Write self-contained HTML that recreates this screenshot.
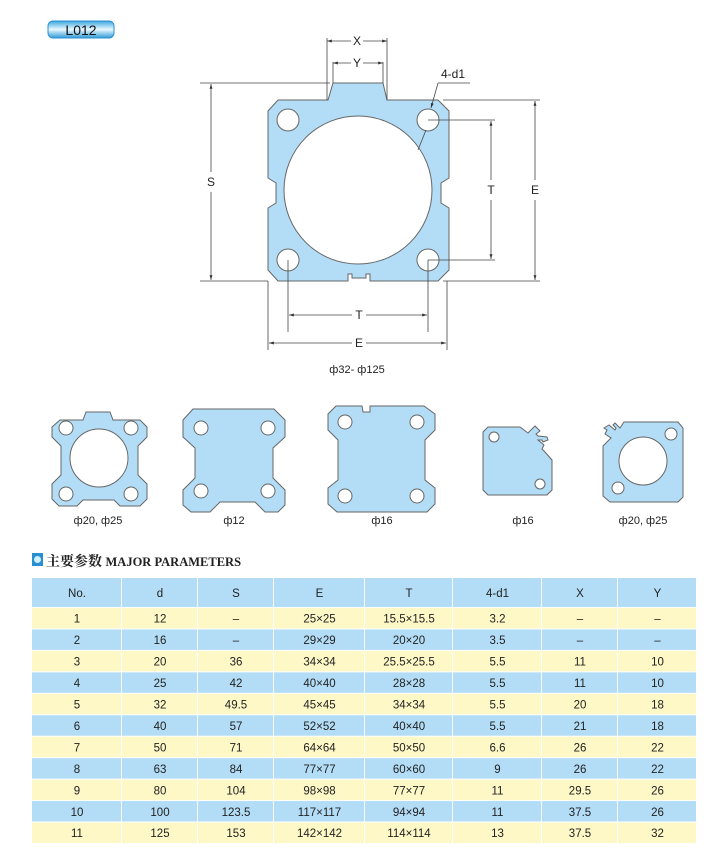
<!DOCTYPE html>
<html><head><meta charset="utf-8"><style>
body{margin:0;background:#fff;width:720px;height:855px;overflow:hidden;font-family:"Liberation Sans",Arial,sans-serif}
svg{position:absolute;left:0;top:0}
</style></head><body>
<svg width="720" height="855" viewBox="0 0 720 855" font-family="Liberation Sans, sans-serif">
<defs>
<linearGradient id="lg" x1="0" y1="0" x2="0" y2="1"><stop offset="0" stop-color="#3aa7e0"/><stop offset="0.5" stop-color="#e8f7ff"/><stop offset="1" stop-color="#2f9ad8"/></linearGradient>
<marker id="a" viewBox="0 0 10 10" refX="10" refY="5" markerWidth="6" markerHeight="6" orient="auto-start-reverse"><path d="M0,2 L10,5 L0,8z" fill="#333"/></marker>
</defs>
<rect x="48" y="21" width="66" height="17" rx="5" fill="url(#lg)" stroke="#2a8fd0"/>
<text x="81" y="35" font-size="14" text-anchor="middle" fill="#111">L012</text>

<!-- main shape -->
<g fill="#b3ddf6" stroke="#666" stroke-width="1">
<path fill-rule="evenodd" d="M278,100 L328,100 L333,83 L383,83 L387,100 L438,100 L449,111 L449,178 L441,183 L441,203 L449,208 L449,270 L438,281 L370,281 L370,274 L366,274 L366,278 L352,278 L352,274 L348,274 L348,281 L278,281 L268,270 L268,208 L276,203 L276,183 L268,178 L268,111 Z
M432,190 A74,74 0 1 0 284,190 A74,74 0 1 0 432,190 Z
M299,120 A11,11 0 1 0 277,120 A11,11 0 1 0 299,120 Z
M439,120 A11,11 0 1 0 417,120 A11,11 0 1 0 439,120 Z
M299,260 A11,11 0 1 0 277,260 A11,11 0 1 0 299,260 Z
M439,260 A11,11 0 1 0 417,260 A11,11 0 1 0 439,260 Z"/>
</g>
<g stroke="#444" stroke-width="0.8" fill="none">
<line x1="327" y1="38" x2="327" y2="100"/><line x1="387" y1="38" x2="387" y2="100"/>
<line x1="327" y1="41" x2="351" y2="41" marker-start="url(#a)"/><line x1="363" y1="41" x2="387" y2="41" marker-end="url(#a)"/>
<line x1="333" y1="62" x2="333" y2="83"/><line x1="383" y1="62" x2="383" y2="83"/>
<line x1="333" y1="63" x2="351" y2="63" marker-start="url(#a)"/><line x1="363" y1="63" x2="383" y2="63" marker-end="url(#a)"/>
<line x1="200" y1="83" x2="330" y2="83"/><line x1="200" y1="281" x2="268" y2="281"/>
<line x1="211" y1="84" x2="211" y2="172" marker-start="url(#a)"/><line x1="211" y1="192" x2="211" y2="280" marker-end="url(#a)"/>
<line x1="443" y1="100" x2="540" y2="100"/><line x1="443" y1="281" x2="540" y2="281"/>
<line x1="535" y1="101" x2="535" y2="180" marker-start="url(#a)"/><line x1="535" y1="200" x2="535" y2="280" marker-end="url(#a)"/>
<line x1="428" y1="120" x2="495" y2="120"/><line x1="428" y1="260" x2="495" y2="260"/>
<line x1="491" y1="121" x2="491" y2="180" marker-start="url(#a)"/><line x1="491" y1="200" x2="491" y2="259" marker-end="url(#a)"/>
<line x1="288" y1="260" x2="288" y2="332"/><line x1="428" y1="260" x2="428" y2="332"/>
<line x1="289" y1="315" x2="352" y2="315" marker-start="url(#a)"/><line x1="366" y1="315" x2="427" y2="315" marker-end="url(#a)"/>
<line x1="268" y1="281" x2="268" y2="350"/><line x1="447" y1="281" x2="447" y2="350"/>
<line x1="269" y1="343" x2="352" y2="343" marker-start="url(#a)"/><line x1="366" y1="343" x2="446" y2="343" marker-end="url(#a)"/>
<line x1="438" y1="83" x2="470" y2="83"/><line x1="438" y1="83" x2="431" y2="108" marker-end="url(#a)"/>
<line x1="426" y1="130" x2="418" y2="150"/>
</g>
<g font-size="12" fill="#222" text-anchor="middle">
<text x="357" y="45">X</text><text x="357" y="67">Y</text>
<text x="453" y="78">4-d1</text>
<text x="211" y="186">S</text><text x="535" y="194">E</text><text x="491" y="194">T</text>
<text x="359" y="319">T</text><text x="359" y="347">E</text>
<text x="357" y="373" font-size="11">ф32- ф125</text>
</g>

<!-- small shapes -->
<g fill="#b3ddf6" stroke="#666" stroke-width="1" fill-rule="evenodd">
<path d="M60,420 L83,420 L86,412 L110,412 L113,420 L140,420 L147,427 L147,437 L138,446 L138,475 L147,484 L147,499 L140,506 L120,506 L114,500 L83,500 L77,506 L59,506 L52,499 L52,484 L61,475 L61,446 L52,437 L52,427 Z
M128,458 A29,29 0 1 0 70,458 A29,29 0 1 0 128,458 Z
M73,428 A7,7 0 1 0 59,428 A7,7 0 1 0 73,428 Z M138,428 A7,7 0 1 0 124,428 A7,7 0 1 0 138,428 Z
M73,494 A7,7 0 1 0 59,494 A7,7 0 1 0 73,494 Z M138,494 A7,7 0 1 0 124,494 A7,7 0 1 0 138,494 Z"/>
<path d="M193,409 L274,409 L285,420 L285,437 L273,448 L273,478 L285,490 L285,505 L278,512 L265,512 L255,502 L220,502 L210,512 L191,512 L183,505 L183,490 L195,478 L195,448 L183,437 L183,420 Z
M208,428 A7,7 0 1 0 194,428 A7,7 0 1 0 208,428 Z M275,428 A7,7 0 1 0 261,428 A7,7 0 1 0 275,428 Z
M208,491 A7,7 0 1 0 194,491 A7,7 0 1 0 208,491 Z M275,491 A7,7 0 1 0 261,491 A7,7 0 1 0 275,491 Z"/>
<path d="M336,406 L362,406 L363,412 L370,412 L370,406 L424,406 L435,414 L435,430 L425,440 L425,480 L435,488 L435,504 L427,512 L337,512 L328,504 L328,488 L338,480 L338,440 L328,430 L328,414 Z
M352,422 A7,7 0 1 0 338,422 A7,7 0 1 0 352,422 Z M424,422 A7,7 0 1 0 410,422 A7,7 0 1 0 424,422 Z
M352,496 A7,7 0 1 0 338,496 A7,7 0 1 0 352,496 Z M424,496 A7,7 0 1 0 410,496 A7,7 0 1 0 424,496 Z"/>
<path d="M488,427 L520,427 L528,433 L535,426 L540,431 L536,434 L538,436 L547,437 L548,440 L543,442 L542,440 L538,440 L544,445 L542,449 L545,452 L552,460 L552,490 L547,495 L488,495 L483,490 L483,432 Z
M499,437 A5,5 0 1 0 489,437 A5,5 0 1 0 499,437 Z M545,484 A5,5 0 1 0 535,484 A5,5 0 1 0 545,484 Z"/>
<path d="M624,422 L678,422 L683,428 L683,497 L678,502 L610,502 L603,496 L603,446 L611,438 L605,434 L607,430 L604,428 L609,425 L615,430 L616,428 L613,425 L615,423 L620,428 Z
M667,461 A24,24 0 1 0 619,461 A24,24 0 1 0 667,461 Z
M677,434 A6,6 0 1 0 665,434 A6,6 0 1 0 677,434 Z M624,488 A6,6 0 1 0 612,488 A6,6 0 1 0 624,488 Z"/>
</g>
<g font-size="11" fill="#222" text-anchor="middle">
<text x="98" y="524">ф20, ф25</text><text x="234" y="524">ф12</text><text x="382" y="524">ф16</text>
<text x="523" y="524">ф16</text><text x="643" y="524">ф20, ф25</text>
</g>

<!-- title -->
<rect x="32" y="553" width="11" height="13" fill="#2a8fd0"/><circle cx="37.5" cy="559.5" r="3.5" fill="#cfeeff"/>
<text x="46" y="566" font-size="14" font-weight="bold" fill="#222" font-family="Liberation Serif, Noto Serif CJK SC, serif">主要参数 <tspan font-size="12.5">MAJOR PARAMETERS</tspan></text>

<!-- table -->
<g id="tbl"></g>
</svg>
<script>
var cols=[32,122,198,274,365,453,542,618,697];
var rows=[["No.","d","S","E","T","4-d1","X","Y"],
["1","12","–","25×25","15.5×15.5","3.2","–","–"],
["2","16","–","29×29","20×20","3.5","–","–"],
["3","20","36","34×34","25.5×25.5","5.5","11","10"],
["4","25","42","40×40","28×28","5.5","11","10"],
["5","32","49.5","45×45","34×34","5.5","20","18"],
["6","40","57","52×52","40×40","5.5","21","18"],
["7","50","71","64×64","50×50","6.6","26","22"],
["8","63","84","77×77","60×60","9","26","22"],
["9","80","104","98×98","77×77","11","29.5","26"],
["10","100","123.5","117×117","94×94","11","37.5","26"],
["11","125","153","142×142","114×114","13","37.5","32"]];
var s="",y=578;
for(var r=0;r<rows.length;r++){var h=r==0?30:21.45;var c=(r==0||r%2==0)?"#b3ddf6":"#fdf8c6";
for(var i=0;i<8;i++){s+='<rect x="'+cols[i]+'" y="'+y+'" width="'+(cols[i+1]-cols[i]-1)+'" height="'+(h-1)+'" fill="'+c+'"/>';
s+='<text x="'+((cols[i]+cols[i+1])/2)+'" y="'+(y+h/2+4)+'" font-size="11.5" text-anchor="middle" fill="#222">'+rows[r][i]+'</text>';}
y+=h;}
document.getElementById("tbl").innerHTML=s;
</script>
</body></html>
